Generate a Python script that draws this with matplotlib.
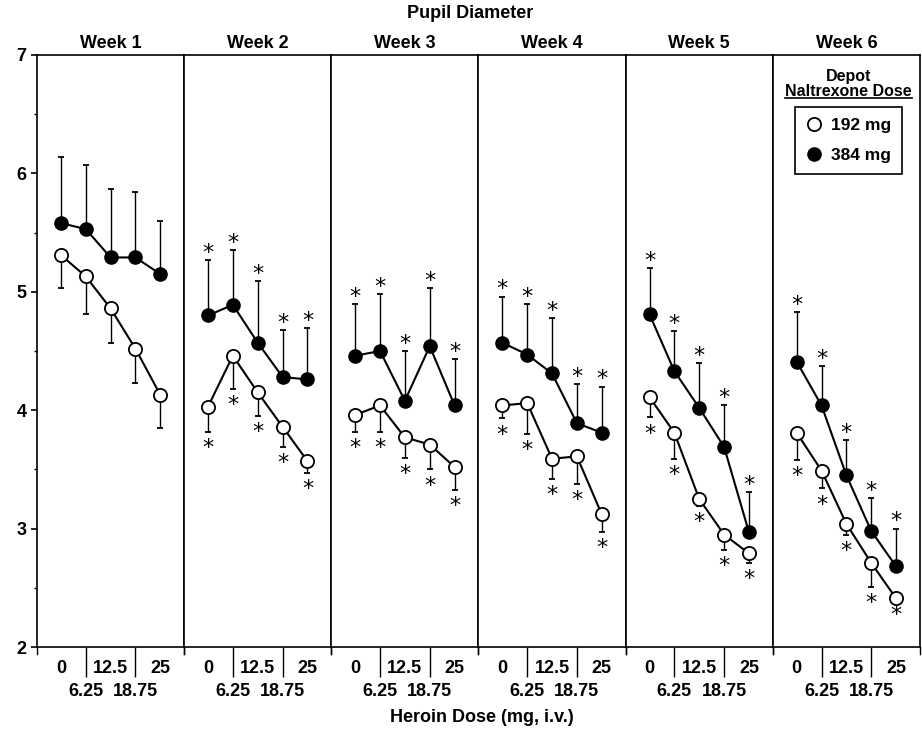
import numpy as np
import matplotlib
matplotlib.use('Agg')
import matplotlib.pyplot as plt
from matplotlib.lines import Line2D

plt.rcParams['font.family'] = ['Liberation Sans', 'DejaVu Sans']
plt.rcParams['font.weight'] = 'bold'

weeks = ['Week 1', 'Week 2', 'Week 3', 'Week 4', 'Week 5', 'Week 6']
doses = [0, 6.25, 12.5, 18.75, 25]
dose_labels_top = ['0', '12.5', '25']
dose_labels_bottom = ['6.25', '18.75']

# 384 mg (filled), error bars drawn upward
mean_384 = [[5.58, 5.53, 5.29, 5.29, 5.15],
            [4.80, 4.89, 4.57, 4.28, 4.26],
            [4.46, 4.50, 4.08, 4.54, 4.04],
            [4.57, 4.47, 4.31, 3.89, 3.81],
            [4.81, 4.33, 4.02, 3.69, 2.97],
            [4.41, 4.04, 3.45, 2.98, 2.68]]
sem_384 = [[0.56, 0.54, 0.58, 0.55, 0.45],
           [0.47, 0.46, 0.52, 0.40, 0.43],
           [0.44, 0.48, 0.42, 0.49, 0.39],
           [0.39, 0.43, 0.47, 0.33, 0.39],
           [0.39, 0.34, 0.38, 0.35, 0.34],
           [0.42, 0.33, 0.30, 0.28, 0.32]]

# 192 mg (open), error bars drawn downward
mean_192 = [[5.31, 5.13, 4.86, 4.52, 4.13],
            [4.03, 4.46, 4.15, 3.86, 3.57],
            [3.96, 4.04, 3.77, 3.71, 3.52],
            [4.04, 4.06, 3.59, 3.61, 3.12],
            [4.11, 3.81, 3.25, 2.95, 2.79],
            [3.81, 3.49, 3.04, 2.71, 2.41]]
sem_192 = [[0.28, 0.32, 0.29, 0.29, 0.28],
           [0.21, 0.28, 0.20, 0.17, 0.10],
           [0.14, 0.22, 0.17, 0.21, 0.19],
           [0.11, 0.26, 0.17, 0.23, 0.15],
           [0.17, 0.22, 0.06, 0.13, 0.08],
           [0.23, 0.15, 0.09, 0.20, 0.00]]

significant = [False, True, True, True, True, True]

fig, axes = plt.subplots(1, 6, sharey=True, figsize=(9.22, 7.32), dpi=100)
fig.subplots_adjust(left=0.0401, right=0.9978, top=0.9249, bottom=0.1161, wspace=0)

for i, ax in enumerate(axes):
    zeros = np.zeros(len(doses))
    ax.errorbar(doses, mean_384[i], yerr=[zeros, sem_384[i]], fmt='none',
                ecolor='black', elinewidth=1, capsize=2.5, capthick=1.3, zorder=2)
    ax.errorbar(doses, mean_192[i], yerr=[sem_192[i], zeros], fmt='none',
                ecolor='black', elinewidth=1, capsize=2.5, capthick=1.3, zorder=2)
    ax.plot(doses, mean_384[i], '-o', color='black', mfc='black', mec='black',
            ms=9.5, lw=1.5, zorder=3)
    ax.plot(doses, mean_192[i], '-o', color='black', mfc='white', mec='black',
            mew=1.3, ms=9.5, lw=1.5, zorder=3)

    if significant[i]:
        for x, m, s in zip(doses, mean_384[i], sem_384[i]):
            ax.annotate('*', xy=(x, m + s), xytext=(0, 0.8), textcoords='offset points',
                        ha='center', va='baseline', fontsize=16, fontweight='normal',
                        family='DejaVu Sans', annotation_clip=False)
        for x, m, s in zip(doses, mean_192[i], sem_192[i]):
            ax.annotate('*', xy=(x, m - s), xytext=(0, -16), textcoords='offset points',
                        ha='center', va='baseline', fontsize=16, fontweight='normal',
                        family='DejaVu Sans', annotation_clip=False)

    ax.set_xlim(-6, 31)
    ax.set_ylim(2, 7)
    ax.set_xticks([0, 12.5, 25])
    ax.set_xticklabels(dose_labels_top)
    ax.set_xticks([6.25, 18.75], minor=True)
    ax.set_xticklabels(dose_labels_bottom, minor=True)
    ax.tick_params(axis='x', which='major', length=0, pad=9.5, labelsize=13)
    ax.tick_params(axis='x', which='minor', length=21.6, width=1, pad=4, labelsize=13)
    for xe in ax.get_xlim():
        ax.add_line(Line2D([xe, xe], [0, -0.011], transform=ax.get_xaxis_transform(),
                           color='black', lw=1, clip_on=False))
    for sp in ax.spines.values():
        sp.set_linewidth(1.2)
    ax.set_title(weeks[i], fontsize=13, fontweight='bold', pad=5)
    if i > 0:
        ax.tick_params(axis='y', which='both', left=False, labelleft=False)

axes[0].set_yticks(range(2, 8))
axes[0].set_yticks(np.arange(2.5, 7, 1.0), minor=True)
axes[0].tick_params(axis='y', which='major', length=4.5, width=1.2, labelsize=13, pad=3)
axes[0].tick_params(axis='y', which='minor', length=2.5, width=1)
for ax in axes[1:]:
    ax.tick_params(axis='y', which='both', left=False, labelleft=False)

# legend in week 6
ax6 = axes[5]
h192 = Line2D([], [], ls='none', marker='o', ms=9.5, mfc='white', mec='black', mew=1.3)
h384 = Line2D([], [], ls='none', marker='o', ms=9.5, mfc='black', mec='black')
leg = ax6.legend([h192, h384], ['192 mg', '384 mg'], loc='upper center',
                 bbox_to_anchor=(0.514, 0.912), borderaxespad=0, fancybox=False,
                 edgecolor='black', framealpha=1, handlelength=1.0, handletextpad=0.5,
                 borderpad=0.6, labelspacing=0.9, prop={'size': 12.5, 'weight': 'bold'})
leg.get_frame().set_linewidth(1.2)
ax6.text(0.514, 0.963, 'Depot', transform=ax6.transAxes, ha='center', va='center',
         fontsize=11.5, fontweight='bold')
t2 = ax6.text(0.514, 0.9375, 'Naltrexone Dose', transform=ax6.transAxes, ha='center',
              va='center', fontsize=11.5, fontweight='bold')

fig.text(470 / 922, 1 - 14 / 732, 'Pupil Diameter', ha='center', va='center',
         fontsize=13, fontweight='bold')
fig.text(482 / 922, 1 - 718 / 732, 'Heroin Dose (mg, i.v.)', ha='center', va='center',
         fontsize=13, fontweight='bold')

fig.canvas.draw()
bb = t2.get_window_extent().transformed(ax6.transAxes.inverted())
ax6.add_line(Line2D([bb.x0, bb.x1], [bb.y0 + 0.002, bb.y0 + 0.002], transform=ax6.transAxes,
                    color='black', lw=1.2, clip_on=False))

plt.savefig('out.png', dpi=100)
